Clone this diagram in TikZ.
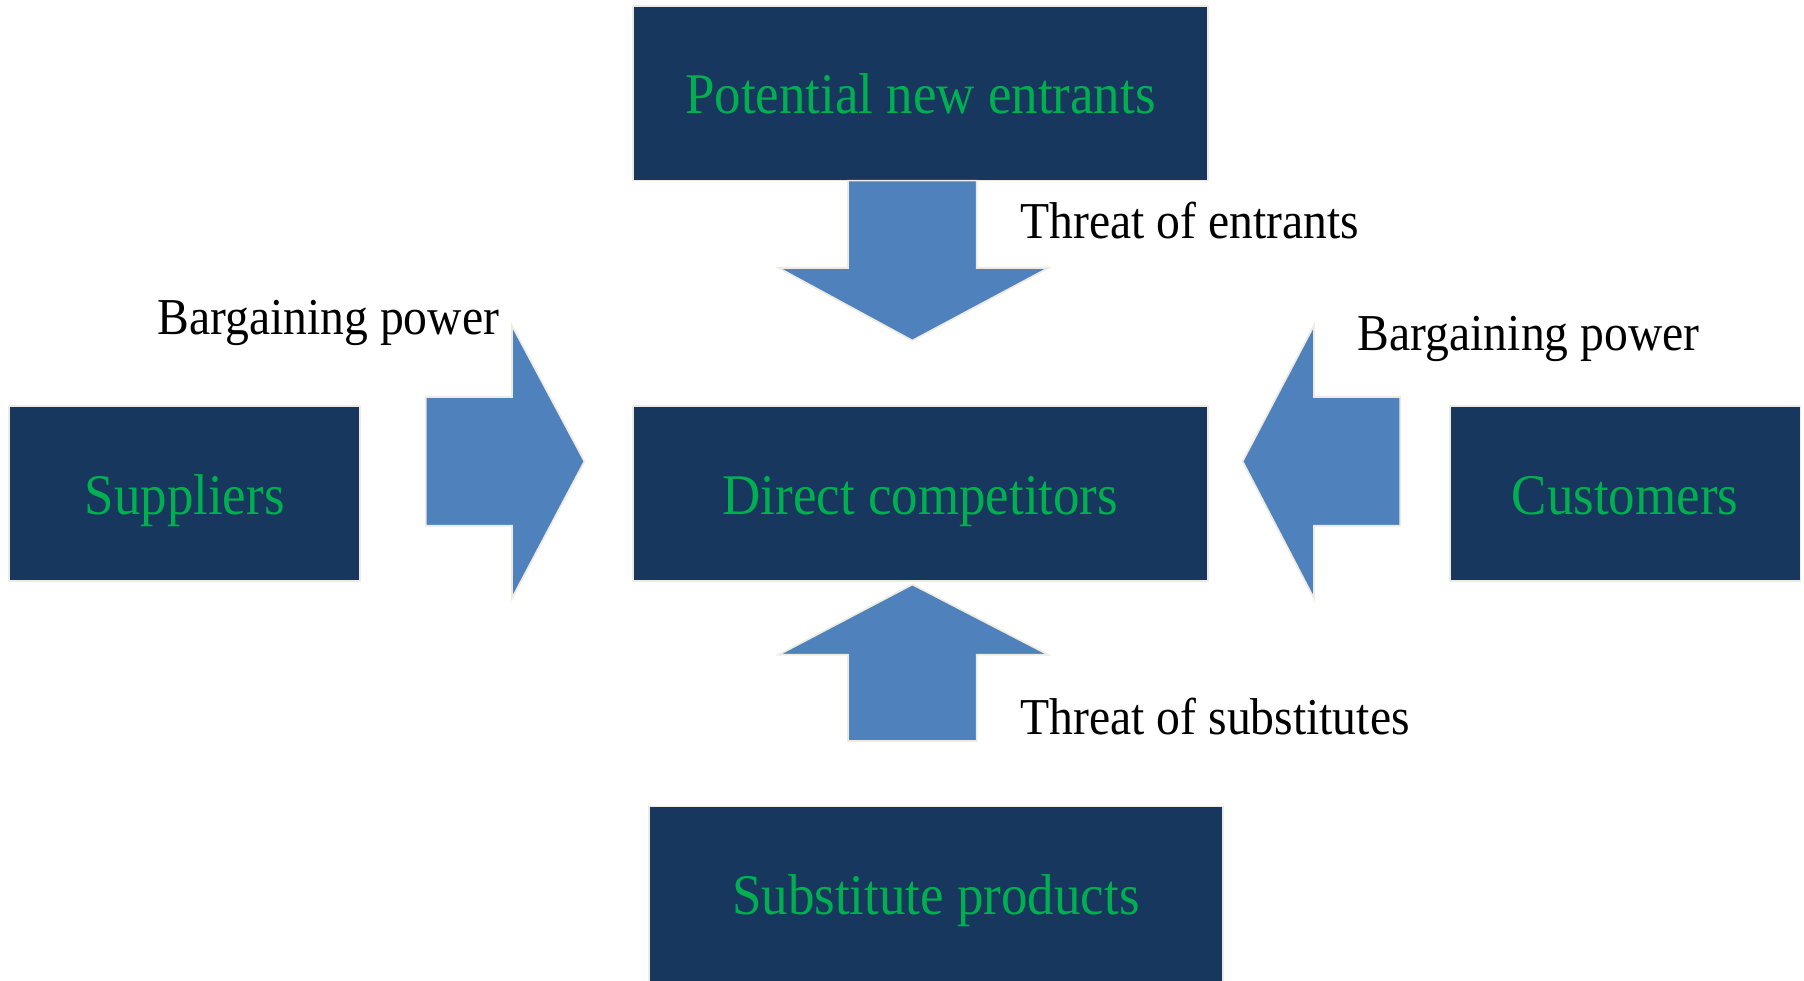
\documentclass[tikz,border=0pt]{standalone}
\usepackage{fontspec}
\setmainfont{Liberation Serif}[FakeStretch=0.92]
\definecolor{boxblue}{HTML}{17375E}
\definecolor{arrowblue}{HTML}{4F81BD}
\definecolor{forcegreen}{HTML}{00B050}
\definecolor{edgecol}{HTML}{EEECE1}
\begin{document}
\begin{tikzpicture}[x=1pt,y=-1pt,
  forcebox/.style={draw=edgecol, line width=1.5pt, fill=boxblue, text=forcegreen,
    inner sep=0pt, text height=36pt, text depth=0pt, font=\fontsize{50}{60}\selectfont},
  blockarrow/.style={draw=edgecol, line width=1.5pt, fill=arrowblue, line join=miter},
  forcelabel/.style={inner sep=0pt, text=black, font=\fontsize{45}{54}\selectfont}]
\useasboundingbox (0,0) rectangle (1568,852);

% the five forces
\node[forcebox, minimum width=500pt, minimum height=152pt] (entrants) at (800,81) {Potential new entrants};
\node[forcebox, minimum width=500pt, minimum height=152pt] (rivals) at (800,429) {Direct competitors};
\node[forcebox, minimum width=305pt, minimum height=152pt] (suppliers) at (160.5,429) {Suppliers};
\node[forcebox, minimum width=305pt, minimum height=152pt] (customers) at (1412.5,429) {Customers};
\node[forcebox, minimum width=499pt, minimum height=152pt] (substitutes) at (813.5,777) {Substitute products};

% block arrows pointing at the direct competitors
\draw[blockarrow] (737,157) -- (849,157) -- (849,233) -- (911,233) -- (793,296)
  -- (677,233) -- (737,233) -- cycle;
\draw[blockarrow] (737,644) -- (849,644) -- (849,569) -- (911,569) -- (793,508)
  -- (677,569) -- (737,569) -- cycle;
\draw[blockarrow] (370,345) -- (445,345) -- (445,283) -- (508,401) -- (445,520)
  -- (445,457) -- (370,457) -- cycle;
\draw[blockarrow] (1217,345) -- (1142,345) -- (1142,283) -- (1080,401) -- (1142,520)
  -- (1142,457) -- (1217,457) -- cycle;

% labels
\node[forcelabel, anchor=base west] (threatnew) at (887,207) {Threat of entrants};
\node[forcelabel, anchor=base west] (threatsub) at (887,638) {Threat of substitutes};
\node[forcelabel, anchor=base east] (powersup) at (434,291) {Bargaining power};
\node[forcelabel, anchor=base west] (powercus) at (1180,305) {Bargaining power};
\end{tikzpicture}
\end{document}
